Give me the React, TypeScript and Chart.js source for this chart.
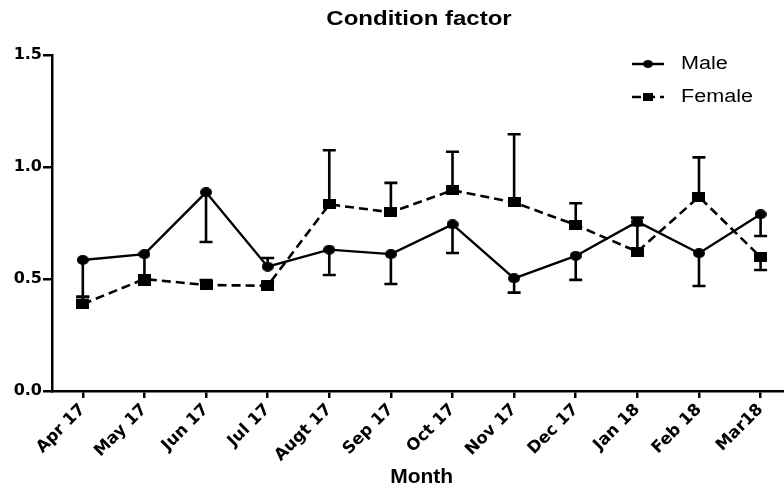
import React, { useEffect, useRef } from "react";
import { Chart, registerables } from "chart.js";

Chart.register(...registerables);

const TITLE = "Condition factor";
const X_TITLE = "Month";
const months = ["Apr 17", "May 17", "Jun 17", "Jul 17", "Augt 17", "Sep 17", "Oct 17", "Nov 17", "Dec 17", "Jan 18", "Feb 18", "Mar18"];
const yTicks = [0, 0.5, 1.0, 1.5];

const maleValues = [0.585, 0.611, 0.887, 0.555, 0.631, 0.611, 0.744, 0.503, 0.603, 0.756, 0.615, 0.789];
// end value of each error bar (drawn from the mean to this value)
const maleErrEnd = [0.42, 0.515, 0.665, 0.594, 0.518, 0.478, 0.616, 0.439, 0.496, 0.774, 0.469, 0.692];

const femaleValues = [0.388, 0.5, 0.473, 0.47, 0.833, 0.798, 0.896, 0.842, 0.741, 0.622, 0.867, 0.598];
const femaleErrEnd = [0.42, 0.475, 0.495, 0.49, 1.075, 0.929, 1.068, 1.146, 0.838, 0.74, 1.043, 0.54];

const FONT = '"DejaVu Sans", "Liberation Sans", Arial, sans-serif';
const ARIAL = '"Liberation Sans", Arial, sans-serif';
const STRETCH = 1.2;

function makeMarker(kind: string, w: number, h: number): HTMLCanvasElement {
  const c = document.createElement("canvas");
  c.width = w;
  c.height = h;
  const g = c.getContext("2d")!;
  g.fillStyle = "#000";
  if (kind === "rect") {
    g.fillRect(0, 0, w, h);
  } else {
    g.beginPath();
    g.ellipse(w / 2, h / 2, w / 2, h / 2, 0, 0, Math.PI * 2);
    g.fill();
  }
  return c;
}

const errorBarPlugin = {
  id: "errorBars",
  afterDatasetsDraw(chart: any) {
    const ctx = chart.ctx;
    const yScale = chart.scales.y;
    chart.data.datasets.forEach((ds: any, i: number) => {
      const meta = chart.getDatasetMeta(i);
      const ends: number[] = ds.errEnd || [];
      ctx.save();
      ctx.strokeStyle = "#000";
      ctx.lineWidth = 2.6;
      ctx.setLineDash([]);
      meta.data.forEach((pt: any, j: number) => {
        if (ends[j] == null) return;
        const x = pt.x;
        const y0 = pt.y;
        const y1 = yScale.getPixelForValue(ends[j]);
        ctx.beginPath();
        ctx.moveTo(x, y0);
        ctx.lineTo(x, y1);
        ctx.moveTo(x - 6.5, y1);
        ctx.lineTo(x + 6.5, y1);
        ctx.stroke();
      });
      ctx.restore();
    });
  },
};

const annotPlugin = {
  id: "annot",
  afterDraw(chart: any) {
    const ctx = chart.ctx;
    ctx.save();
    ctx.fillStyle = "#000";
    ctx.save();
    ctx.scale(STRETCH, 1);
    ctx.font = `bold 20px ${ARIAL}`;
    ctx.textAlign = "center";
    ctx.textBaseline = "middle";
    ctx.fillText(TITLE, 419 / STRETCH, 19);
    ctx.restore();

    // legend
    const items = chart.data.datasets;
    const rows = [64, 97];
    items.forEach((ds: any, i: number) => {
      const y = rows[i];
      ctx.strokeStyle = "#000";
      ctx.lineWidth = 2.5;
      ctx.setLineDash(ds.borderDash || []);
      ctx.beginPath();
      ctx.moveTo(632, y);
      ctx.lineTo(664, y);
      ctx.stroke();
      ctx.setLineDash([]);
      ctx.fillStyle = "#000";
      if (ds.legendKind === "rect") {
        ctx.fillRect(648 - 5, y - 4, 10, 8);
      } else {
        ctx.beginPath();
        ctx.ellipse(648, y, 5, 4, 0, 0, Math.PI * 2);
        ctx.fill();
      }
      ctx.save();
      ctx.scale(STRETCH, 1);
      ctx.font = `18px ${ARIAL}`;
      ctx.textAlign = "left";
      ctx.textBaseline = "middle";
      ctx.fillText(ds.label, 681 / STRETCH, y);
      ctx.restore();
    });
    ctx.restore();
  },
};

export default function App() {
  const ref = useRef<HTMLCanvasElement | null>(null);
  useEffect(() => {
    document.body.style.margin = "0";
    document.body.style.overflow = "hidden";
    const canvas = ref.current;
    if (!canvas) return;
    const circle = makeMarker("circle", 12, 10);
    const square = makeMarker("rect", 13, 10);
    const chart = new Chart(canvas, {
      type: "line",
      data: {
        labels: months,
        datasets: [
          {
            label: "Male",
            data: maleValues,
            errEnd: maleErrEnd,
            legendKind: "circle",
            borderColor: "#000",
            backgroundColor: "#000",
            borderWidth: 2.4,
            pointStyle: circle,
            pointRadius: 6,
            tension: 0,
          } as any,
          {
            label: "Female",
            data: femaleValues,
            errEnd: femaleErrEnd,
            legendKind: "rect",
            borderColor: "#000",
            backgroundColor: "#000",
            borderWidth: 2.6,
            borderDash: [9, 5],
            pointStyle: square,
            pointRadius: 6,
            tension: 0,
          } as any,
        ],
      },
      options: {
        animation: false,
        responsive: false,
        maintainAspectRatio: false,
        layout: { padding: { top: 55, right: 8, left: 0, bottom: 0 } },
        plugins: {
          legend: { display: false },
          title: { display: false },
          tooltip: { enabled: false },
        },
        scales: {
          x: {
            type: "category",
            offset: true,
            grid: {
              display: true,
              drawOnChartArea: false,
              drawTicks: true,
              tickLength: 7,
              color: "#000",
              lineWidth: 2.5,
              offset: false,
            },
            border: { display: true, color: "#000", width: 2.5 },
            ticks: {
              color: "#000",
              font: { family: FONT, size: 16.5, weight: "bold" },
              minRotation: 45,
              maxRotation: 45,
              padding: 2,
              autoSkip: false,
            },
            title: {
              display: true,
              text: X_TITLE,
              color: "#000",
              font: { family: ARIAL, size: 21, weight: "bold" },
              padding: { top: 3, bottom: 3 },
            },
            afterFit: (s: any) => {
              s.height = 102;
              s.paddingRight = 0;
            },
          },
          y: {
            min: 0,
            max: 1.5,
            grid: {
              display: true,
              drawOnChartArea: false,
              drawTicks: true,
              tickLength: 9,
              color: "#000",
              lineWidth: 2.5,
            },
            border: { display: true, color: "#000", width: 2.5 },
            ticks: {
              color: "#000",
              font: { family: FONT, size: 16, weight: "bold" },
              stepSize: 0.5,
              padding: 1,
              callback: (v: any) => Number(v).toFixed(1),
            },
            afterBuildTicks: (s: any) => {
              s.ticks = yTicks.map((v) => ({ value: v }));
            },
            afterFit: (s: any) => {
              s.width = 52;
            },
          },
        },
      } as any,
      plugins: [errorBarPlugin, annotPlugin],
    });
    return () => chart.destroy();
  }, []);
  return (
    <div style={{ position: "absolute", left: 0, top: 0, width: 784, height: 493, overflow: "hidden" }}>
      <canvas ref={ref} width={800} height={493} style={{ display: "block" }} />
    </div>
  );
}
